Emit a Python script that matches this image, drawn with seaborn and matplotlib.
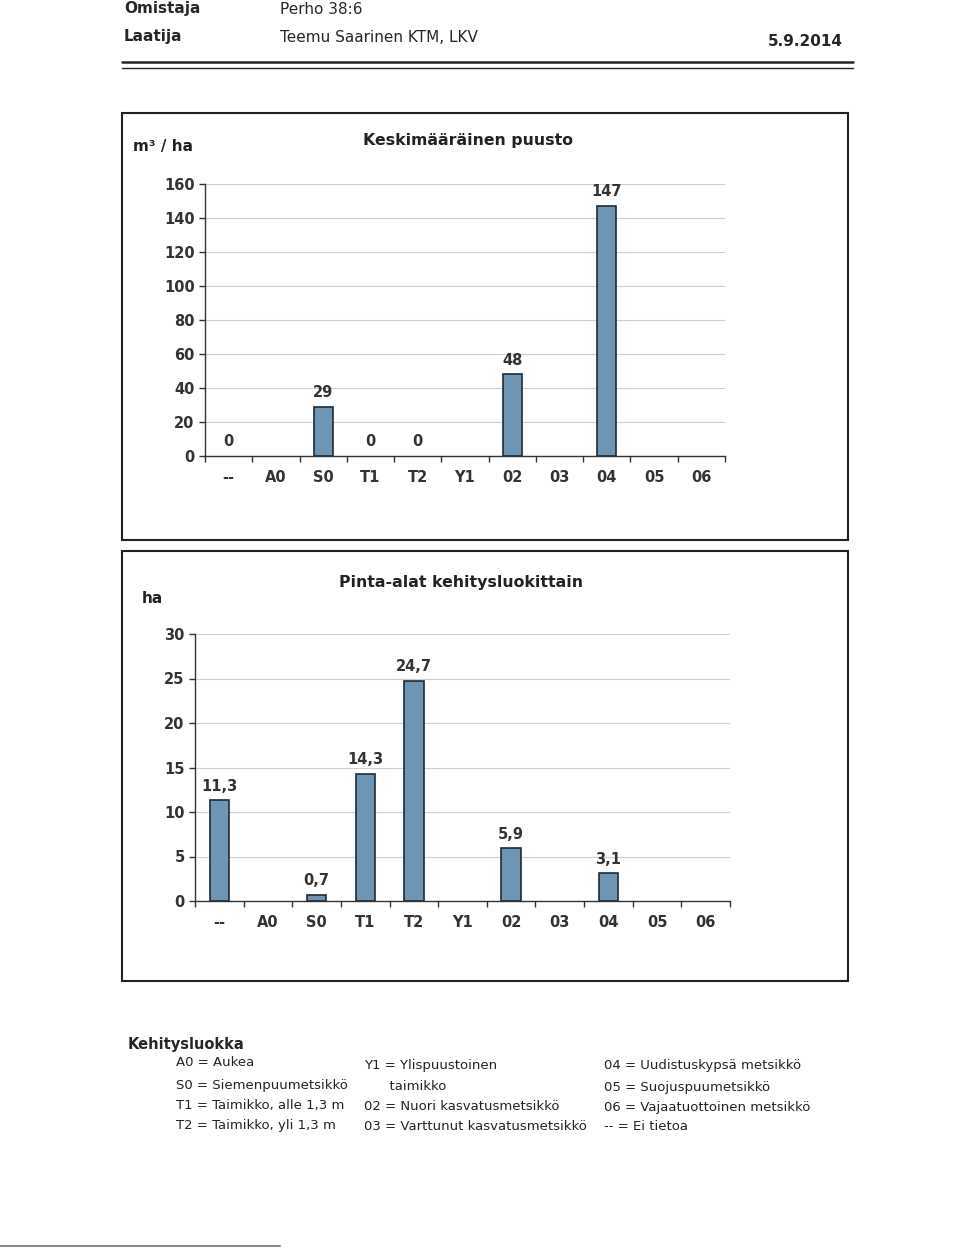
import numpy as np
import pandas as pd
import matplotlib
matplotlib.use("Agg")
import matplotlib.pyplot as plt
import seaborn as sns
from matplotlib.patches import Rectangle
from matplotlib.lines import Line2D

sns.set_style("white")
plt.rcParams["font.family"] = ["DejaVu Sans"]

####data####
classes = ["--", "A0", "S0", "T1", "T2", "Y1", "02", "03", "04", "05", "06"]
volume = [0, None, 29, 0, 0, None, 48, None, 147, None, None]      # m3/ha
area = [11.3, None, 0.7, 14.3, 24.7, None, 5.9, None, 3.1, None, None]  # ha

legend_col1 = ["A0 = Aukea", "S0 = Siemenpuumetsikkö",
               "T1 = Taimikko, alle 1,3 m", "T2 = Taimikko, yli 1,3 m"]
legend_col2 = ["Y1 = Ylispuustoinen", "      taimikko",
               "02 = Nuori kasvatusmetsikkö", "03 = Varttunut kasvatusmetsikkö"]
legend_col3 = ["04 = Uudistuskypsä metsikkö", "05 = Suojuspuumetsikkö",
               "06 = Vajaatuottoinen metsikkö", "-- = Ei tietoa"]

BAR = "#6e96b4"
EDGE = "#1e2b36"
W, H = 960, 1248


def fx(x):
    return x / W


def fy(y):
    return 1 - y / H


def fmt(v):
    if isinstance(v, int):
        return str(v)
    return f"{v:.1f}".replace(".", ",")


def bar_chart(ax, values, ymax, ystep):
    df = pd.DataFrame({"cls": classes,
                       "val": [0 if v is None else v for v in values]})
    sns.barplot(data=df, x="cls", y="val", order=classes, color=BAR,
                saturation=1, width=0.4, edgecolor=EDGE, linewidth=1.2, ax=ax)
    # no visible bar for zero / missing values
    for p in ax.patches:
        if p.get_height() == 0:
            p.set_visible(False)
    for i, v in enumerate(values):
        if v is None:
            continue
        ax.text(i, v + ymax * 0.025, fmt(v), ha="center", va="bottom",
                fontsize=10.5, fontweight="bold", color="#333333")
    ax.set_xlim(-0.5, len(classes) - 0.5)
    ax.set_ylim(0, ymax)
    ax.set_yticks(np.arange(0, ymax + 1, ystep))
    ax.set_xticks(np.arange(-0.5, len(classes), 1), minor=True)
    ax.tick_params(axis="x", which="major", length=0, pad=10,
                   labelsize=10.5, labelcolor="#333333")
    ax.tick_params(axis="x", which="minor", length=4, width=1,
                   direction="out", color="#333333", bottom=True)
    ax.tick_params(axis="y", length=4, width=1, direction="out", left=True,
                   labelsize=10.5, labelcolor="#333333", color="#333333")
    for lab in ax.get_xticklabels() + ax.get_yticklabels():
        lab.set_fontweight("bold")
    ax.yaxis.grid(True, color="#cfcfcf", linewidth=0.8)
    ax.set_axisbelow(True)
    for s in ["top", "right"]:
        ax.spines[s].set_visible(False)
    for s in ["left", "bottom"]:
        ax.spines[s].set_color("#333333")
        ax.spines[s].set_linewidth(1)
    ax.set_xlabel("")
    ax.set_ylabel("")


fig = plt.figure(figsize=(9.6, 12.48), dpi=100)

####header####
fig.text(fx(124), fy(9), "Omistaja", fontsize=11, fontweight="bold", va="center")
fig.text(fx(280), fy(9), "Perho 38:6", fontsize=11, va="center")
fig.text(fx(124), fy(37), "Laatija", fontsize=11, fontweight="bold", va="center")
fig.text(fx(280), fy(38), "Teemu Saarinen KTM, LKV", fontsize=11, va="center")
fig.text(fx(843), fy(41), "5.9.2014", fontsize=11, fontweight="bold",
         va="center", ha="right")
fig.add_artist(Line2D([fx(122), fx(853)], [fy(62), fy(62)], color="#222222",
                      linewidth=1.8, transform=fig.transFigure))
fig.add_artist(Line2D([fx(122), fx(853)], [fy(68), fy(68)], color="#222222",
                      linewidth=1.0, transform=fig.transFigure))

####frames####
for (x0, y0, x1, y1) in [(122, 113, 848, 540), (122, 551, 848, 981)]:
    fig.add_artist(Rectangle((fx(x0), fy(y1)), fx(x1 - x0), (y1 - y0) / H,
                             fill=False, edgecolor="#222222", linewidth=1.5,
                             transform=fig.transFigure))

####chart 1####
ax1 = fig.add_axes([fx(205), fy(456), fx(725 - 205), (456 - 184) / H])
bar_chart(ax1, volume, 160, 20)
fig.text(fx(468), fy(141), "Keskimääräinen puusto", fontsize=11.3,
         fontweight="bold", ha="center", va="center", color="#222222")
fig.text(fx(133), fy(146), "m³ / ha", fontsize=11, fontweight="bold",
         va="center", color="#222222")

####chart 2####
ax2 = fig.add_axes([fx(195), fy(901), fx(730 - 195), (901 - 634) / H])
bar_chart(ax2, area, 30, 5)
fig.text(fx(461), fy(582), "Pinta-alat kehitysluokittain", fontsize=11.3,
         fontweight="bold", ha="center", va="center", color="#222222")
fig.text(fx(142), fy(598), "ha", fontsize=11, fontweight="bold",
         va="center", color="#222222")

####legend text####
fig.text(fx(128), fy(1044), "Kehitysluokka", fontsize=10.5, fontweight="bold",
         va="center")
rows = [1063, 1085, 1105, 1125]
for col, x0 in [(legend_col1, 176), (legend_col2, 364), (legend_col3, 604)]:
    for i, t in enumerate(col):
        dy = 2 if x0 != 176 else 0
        fig.text(fx(x0), fy(rows[i] + dy), t, fontsize=9.5, va="center",
                 color="#222222")

fig.add_artist(Line2D([0, fx(280)], [fy(1246), fy(1246)], color="#888888",
                      linewidth=1.5, transform=fig.transFigure))

plt.savefig("out.png", dpi=100)
